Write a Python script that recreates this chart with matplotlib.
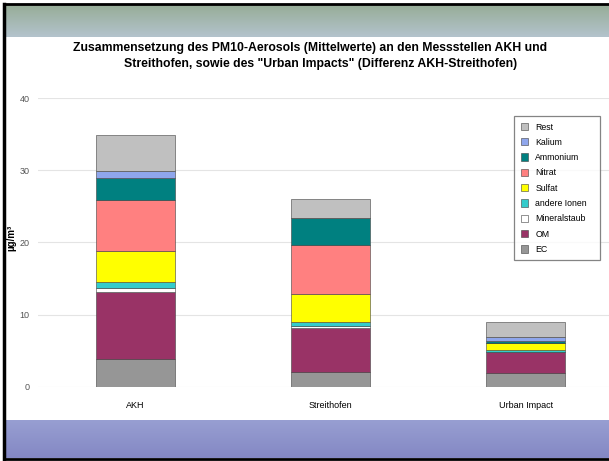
import numpy as np
import matplotlib.pyplot as plt
from matplotlib.colors import LinearSegmentedColormap

plt.rcParams['font.family'] = ['Liberation Sans', 'DejaVu Sans']

# PM10 Zusammensetzung, Mittelwerte in µg/m³
categories = ["AKH", "Streithofen", "Urban Impact"]
components = ["EC", "OM", "Mineralstaub", "andere Ionen", "Sulfat",
              "Nitrat", "Ammonium", "Kalium", "Rest"]
ec = [3.9, 2.1, 1.85]
om = [9.25, 6.0, 2.9]
mineral = [0.5, 0.3, 0.1]
andere_ionen = [0.85, 0.6, 0.2]
sulfat = [4.3, 3.85, 1.0]
nitrat = [7.1, 6.8, 0.05]
ammonium = [3.0, 3.7, 0.3]
kalium = [0.95, 0.1, 0.45]
rest = [5.1, 2.55, 2.1]

values = [ec, om, mineral, andere_ionen, sulfat, nitrat, ammonium, kalium, rest]
colors = ["#969696", "#993366", "#ffffff", "#33cccc", "#ffff00",
          "#ff8080", "#008080", "#8fa6ec", "#c0c0c0"]

fig = plt.figure(figsize=(6.09, 4.61), dpi=100)
fig.patch.set_facecolor("white")

# Farbverlauf-Balken oben und unten
grad = np.linspace(0, 1, 50).reshape(-1, 1)
top_band = fig.add_axes([0.005, 1 - 37 / 461, 0.995, 32 / 461])
top_band.imshow(grad, aspect="auto", extent=[0, 1, 0, 1],
                cmap=LinearSegmentedColormap.from_list("tb", ["#97ad98", "#b3c3cc"]))
top_band.axis("off")

bot_band = fig.add_axes([0.005, 3 / 461, 0.995, 38 / 461])
bot_band.imshow(grad, aspect="auto", extent=[0, 1, 0, 1],
                cmap=LinearSegmentedColormap.from_list("bb", ["#989fd2", "#8488c4"]))
bot_band.axis("off")

# Rahmen
frame = fig.add_axes([0, 0, 1, 1], facecolor="none")
frame.set_xlim(0, 609)
frame.set_ylim(461, 0)
frame.plot([4, 4], [4, 459], color="black", lw=2.5)
frame.plot([4, 609], [4.5, 4.5], color="black", lw=2)
frame.plot([4, 609], [458.5, 458.5], color="black", lw=2)
frame.axis("off")

ax = fig.add_axes([38 / 609, (461 - 386.7) / 461, (609 - 38) / 609, 288.4 / 461])
x = np.arange(len(categories))
bottom = np.zeros(len(categories))
for name, vals, col in zip(components, values, colors):
    ax.bar(x, vals, width=0.405, bottom=bottom, color=col, label=name,
           edgecolor="#404040", linewidth=0.4)
    bottom += np.array(vals)

ax.set_xlim(-0.5, 2.426)
ax.set_ylim(0, 40)
ax.set_yticks([0, 10, 20, 30, 40])
ax.yaxis.grid(True, color="#e4e4e4", lw=0.8)
ax.set_axisbelow(True)
ax.set_xticks(x)
ax.set_xticklabels(categories, fontsize=6.5)
ax.tick_params(axis="y", labelsize=6.5, labelcolor="#555555", length=0, pad=6)
ax.tick_params(axis="x", length=0, pad=10)
for s in ax.spines.values():
    s.set_visible(False)

fig.text(11 / 609, 1 - 238 / 461, "µg/m³", rotation=90, fontsize=7,
         fontweight="bold", ha="center", va="center")

fig.text(310 / 609, 1 - 48 / 461,
         "Zusammensetzung des PM10-Aerosols (Mittelwerte) an den Messstellen AKH und",
         ha="center", va="center", fontsize=8.8, fontweight="bold")
fig.text(321 / 609, 1 - 64 / 461,
         "Streithofen, sowie des \"Urban Impacts\" (Differenz AKH-Streithofen)",
         ha="center", va="center", fontsize=8.8, fontweight="bold")

handles, labels = ax.get_legend_handles_labels()
leg = fig.legend(handles[::-1], labels[::-1], loc="upper left",
                 bbox_to_anchor=(510 / 609, 1 - 112 / 461, 94 / 609, 0),
                 mode="expand", fontsize=6.3,
                 frameon=True, fancybox=False, edgecolor="#666666",
                 handlelength=0.9, handleheight=0.9, labelspacing=0.72,
                 borderpad=0.7)
leg.get_frame().set_linewidth(0.9)

fig.savefig("out.png", dpi=100)
